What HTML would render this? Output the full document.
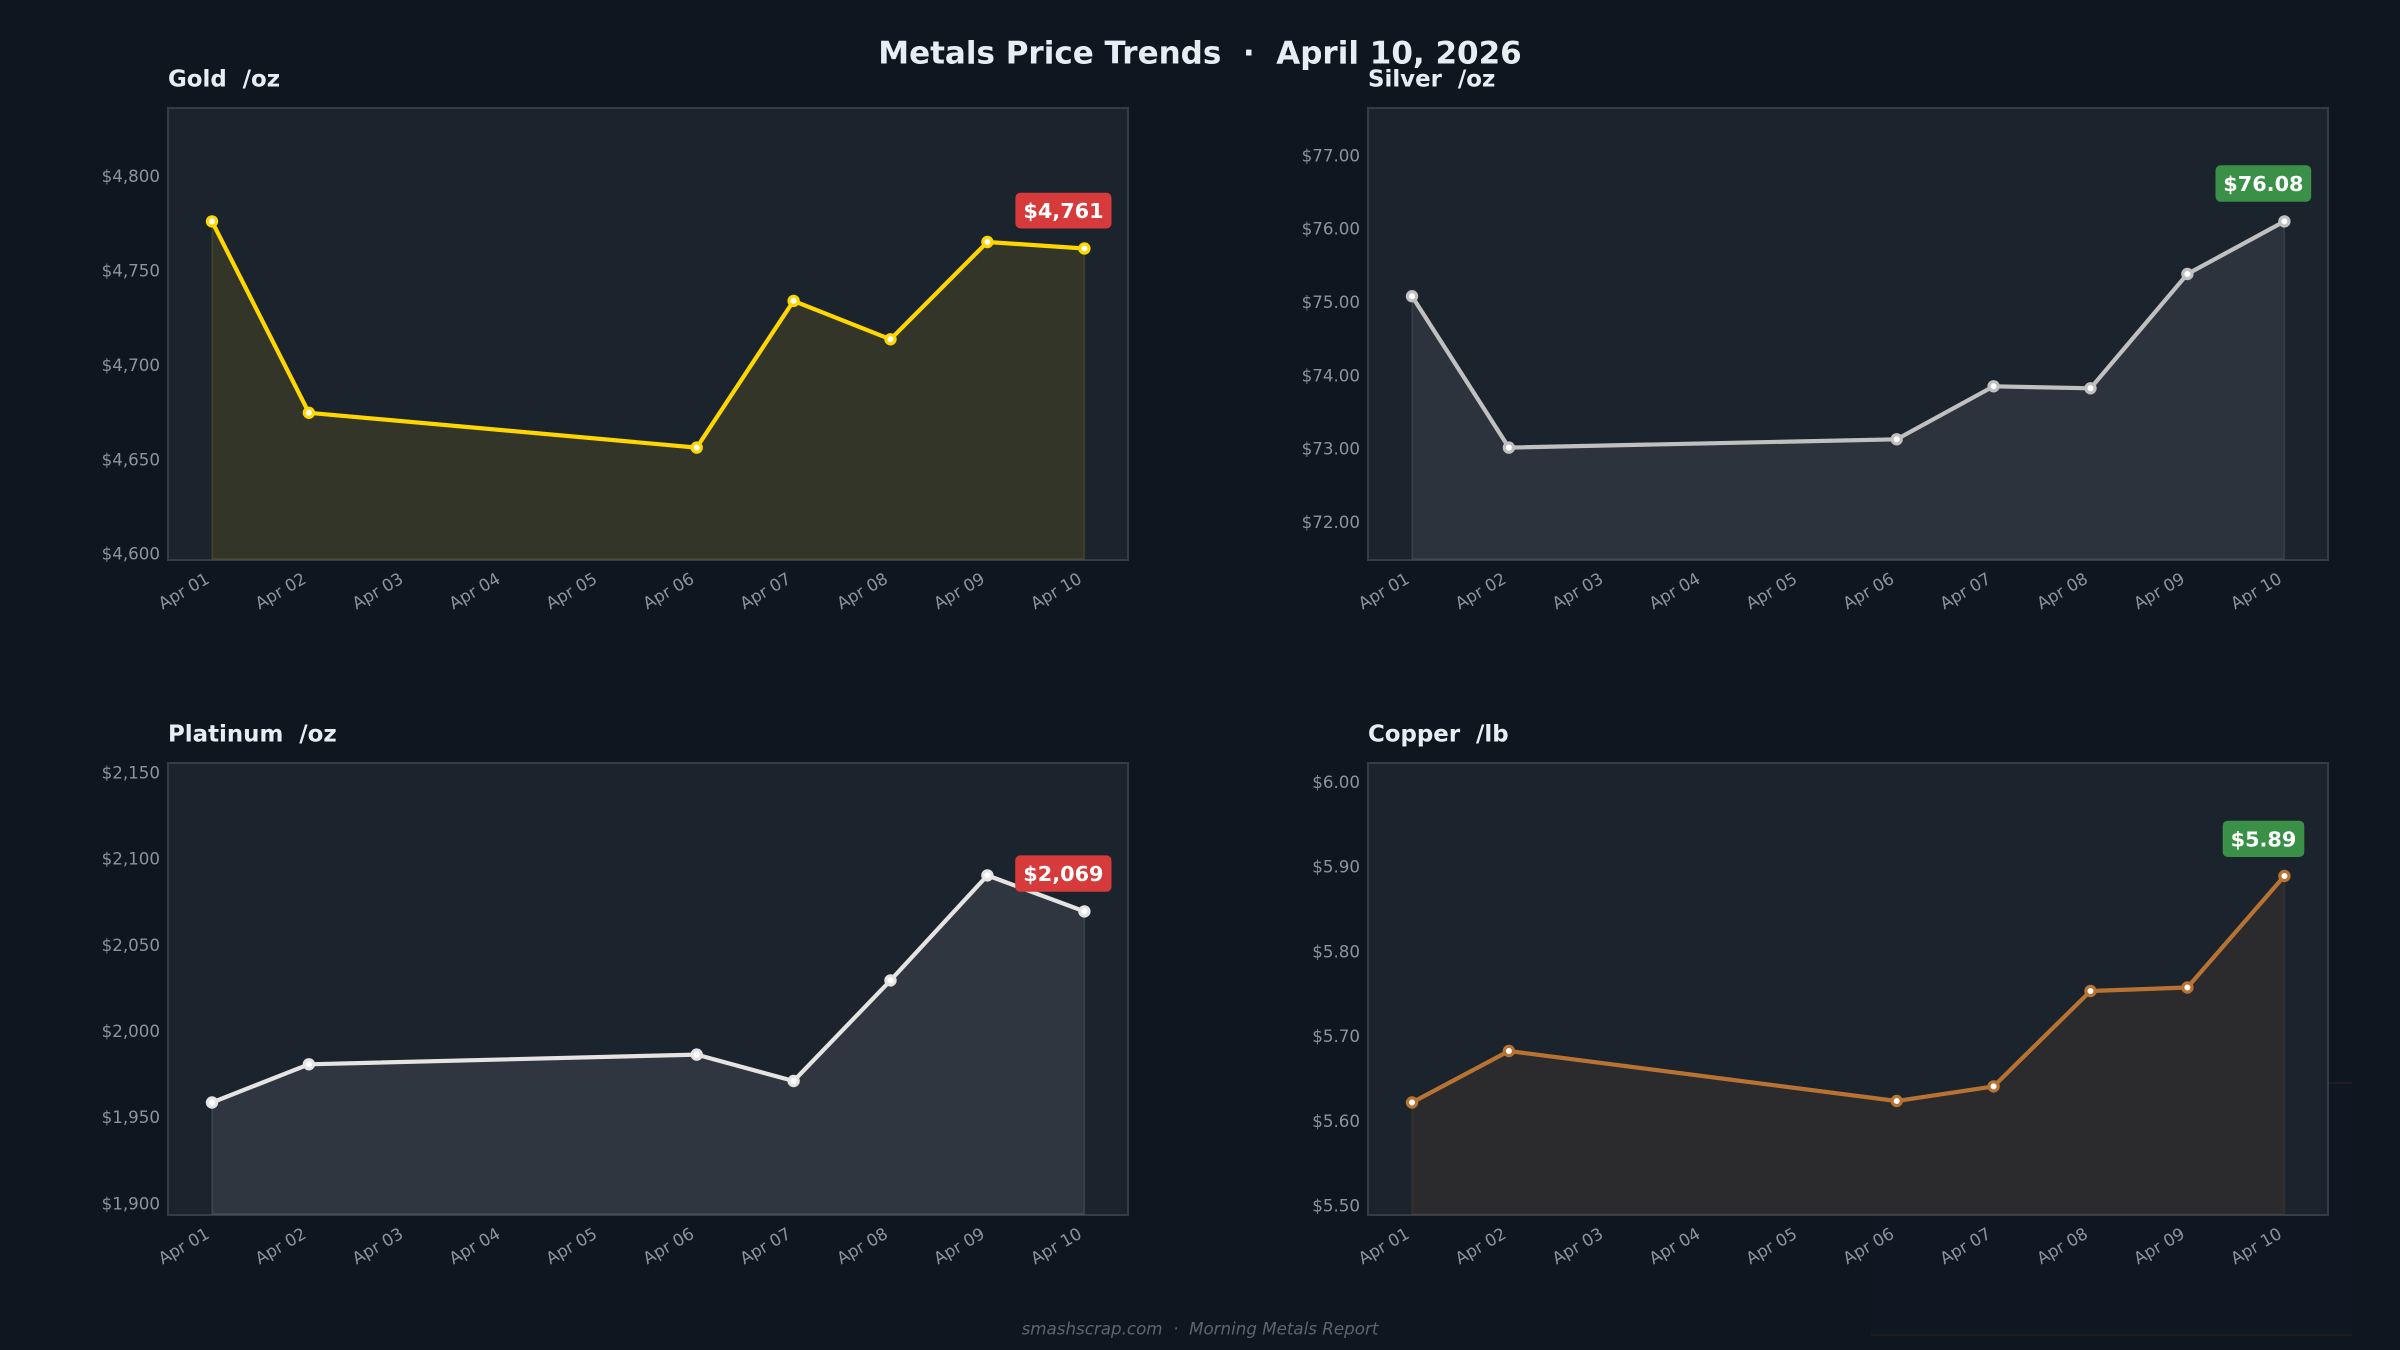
<!DOCTYPE html>
<html><head><meta charset="utf-8"><style>
html,body{margin:0;padding:0;background:#0e1620;}
svg{display:block;}
text{font-family:"DejaVu Sans","Liberation Sans",sans-serif;white-space:pre;}
.tk{font-size:16.7px;fill:#8b949e;}
.yt{text-anchor:end;}
.ttl{font-size:22.9px;font-weight:bold;fill:#e6edf3;}
.val{font-size:20.8px;font-weight:bold;fill:#ffffff;text-anchor:middle;}
.ax{fill:#1b232d;stroke:#333d49;stroke-width:2;}
</style></head><body>
<svg width="2400" height="1350" viewBox="0 0 2400 1350" xmlns="http://www.w3.org/2000/svg">
<rect x="0" y="0" width="2400" height="1350" fill="#0e1620"/>
<!-- faint box behind -->
<rect x="1871" y="1083" width="481" height="252" fill="#0f1822"/>
<line x1="1871" y1="1335" x2="2352" y2="1335" stroke="#221b22" stroke-width="2"/>
<line x1="1871" y1="1083" x2="2352" y2="1083" stroke="#221b22" stroke-width="2"/>

<text x="1200" y="63.5" text-anchor="middle" style="font-size:31px;font-weight:bold;fill:#e6edf3;">Metals Price Trends  ·  April 10, 2026</text>

<!-- GOLD -->
<g>
<text class="ttl" x="168" y="86.7">Gold  /oz</text>
<rect class="ax" x="168" y="108" width="960" height="452"/>
<polygon points="212,221.4 308.9,412.8 696.7,447.6 793.6,300.9 890.5,339.3 987.4,242 1084.4,248.5 1084.4,559 212,559" fill="#FFD700" fill-opacity="0.10" stroke="#FFD700" stroke-opacity="0.12" stroke-width="1.5"/>
<polyline points="212,221.4 308.9,412.8 696.7,447.6 793.6,300.9 890.5,339.3 987.4,242 1084.4,248.5" fill="none" stroke="#FFD700" stroke-width="4.2" stroke-linejoin="round"/>
<g fill="#ffffff" stroke="#FFD700" stroke-width="3.2">
<circle cx="212" cy="221.4" r="4.6"/><circle cx="308.9" cy="412.8" r="4.6"/><circle cx="696.7" cy="447.6" r="4.6"/><circle cx="793.6" cy="300.9" r="4.6"/><circle cx="890.5" cy="339.3" r="4.6"/><circle cx="987.4" cy="242" r="4.6"/><circle cx="1084.4" cy="248.5" r="4.6"/>
</g>
<rect x="1015.4" y="192.7" width="96.1" height="35.8" rx="5" fill="#d63a3a"/>
<text class="val" x="1063.5" y="218.2">$4,761</text>
<g class="tk yt">
<text x="160" y="182.2">$4,800</text><text x="160" y="276.6">$4,750</text><text x="160" y="370.9">$4,700</text><text x="160" y="465.3">$4,650</text><text x="160" y="559.6">$4,600</text>
</g>
</g>

<!-- SILVER -->
<g transform="translate(1200,0)">
<text class="ttl" x="168" y="86.7">Silver  /oz</text>
<rect class="ax" x="168" y="108" width="960" height="452"/>
<polygon points="212,296.2 308.9,447.6 696.7,439.3 793.6,386.3 890.5,388.3 987.4,274 1084.4,221.4 1084.4,559 212,559" fill="#C0C0C0" fill-opacity="0.10" stroke="#C0C0C0" stroke-opacity="0.12" stroke-width="1.5"/>
<polyline points="212,296.2 308.9,447.6 696.7,439.3 793.6,386.3 890.5,388.3 987.4,274 1084.4,221.4" fill="none" stroke="#C0C0C0" stroke-width="4.2" stroke-linejoin="round"/>
<g fill="#ffffff" stroke="#C0C0C0" stroke-width="3.2">
<circle cx="212" cy="296.2" r="4.6"/><circle cx="308.9" cy="447.6" r="4.6"/><circle cx="696.7" cy="439.3" r="4.6"/><circle cx="793.6" cy="386.3" r="4.6"/><circle cx="890.5" cy="388.3" r="4.6"/><circle cx="987.4" cy="274" r="4.6"/><circle cx="1084.4" cy="221.4" r="4.6"/>
</g>
<rect x="1015.5" y="165.3" width="95.7" height="36.4" rx="5" fill="#3a9046"/>
<text class="val" x="1063.4" y="191.1">$76.08</text>
<g class="tk yt">
<text x="160" y="161.3">$77.00</text><text x="160" y="234.7">$76.00</text><text x="160" y="308">$75.00</text><text x="160" y="381.4">$74.00</text><text x="160" y="454.7">$73.00</text><text x="160" y="528.1">$72.00</text>
</g>
</g>

<!-- PLATINUM -->
<g transform="translate(0,655)">
<text class="ttl" x="168" y="86.5">Platinum  /oz</text>
<rect class="ax" x="168" y="108" width="960" height="452"/>
<polygon points="212,447.5 308.9,409.3 696.7,399.6 793.6,426 890.5,325.4 987.4,220.4 1084.4,256.4 1084.4,559 212,559" fill="#E5E4E2" fill-opacity="0.10" stroke="#E5E4E2" stroke-opacity="0.12" stroke-width="1.5"/>
<polyline points="212,447.5 308.9,409.3 696.7,399.6 793.6,426 890.5,325.4 987.4,220.4 1084.4,256.4" fill="none" stroke="#E5E4E2" stroke-width="4.2" stroke-linejoin="round"/>
<g fill="#ffffff" stroke="#E5E4E2" stroke-width="3.2">
<circle cx="212" cy="447.5" r="4.6"/><circle cx="308.9" cy="409.3" r="4.6"/><circle cx="696.7" cy="399.6" r="4.6"/><circle cx="793.6" cy="426" r="4.6"/><circle cx="890.5" cy="325.4" r="4.6"/><circle cx="987.4" cy="220.4" r="4.6"/><circle cx="1084.4" cy="256.4" r="4.6"/>
</g>
<rect x="1015.2" y="200.4" width="96.3" height="36.4" rx="5" fill="#d63a3a"/>
<text class="val" x="1063.4" y="226.2">$2,069</text>
<g class="tk yt">
<text x="160" y="123.3">$2,150</text><text x="160" y="209.6">$2,100</text><text x="160" y="295.8">$2,050</text><text x="160" y="382">$2,000</text><text x="160" y="468.2">$1,950</text><text x="160" y="554.4">$1,900</text>
</g>
</g>

<!-- COPPER -->
<g transform="translate(1200,655)">
<text class="ttl" x="168" y="86.5">Copper  /lb</text>
<rect class="ax" x="168" y="108" width="960" height="452"/>
<polygon points="212,447.5 308.9,396 696.7,446 793.6,431.4 890.5,336 987.4,332.5 1084.4,221 1084.4,559 212,559" fill="#B87333" fill-opacity="0.10" stroke="#B87333" stroke-opacity="0.12" stroke-width="1.5"/>
<polyline points="212,447.5 308.9,396 696.7,446 793.6,431.4 890.5,336 987.4,332.5 1084.4,221" fill="none" stroke="#B87333" stroke-width="4.2" stroke-linejoin="round"/>
<g fill="#ffffff" stroke="#B87333" stroke-width="3.2">
<circle cx="212" cy="447.5" r="4.6"/><circle cx="308.9" cy="396" r="4.6"/><circle cx="696.7" cy="446" r="4.6"/><circle cx="793.6" cy="431.4" r="4.6"/><circle cx="890.5" cy="336" r="4.6"/><circle cx="987.4" cy="332.5" r="4.6"/><circle cx="1084.4" cy="221" r="4.6"/>
</g>
<rect x="1022.7" y="165.7" width="81.6" height="36.3" rx="5" fill="#3a9046"/>
<text class="val" x="1063.5" y="191.5">$5.89</text>
<g class="tk yt">
<text x="160" y="133">$6.00</text><text x="160" y="217.7">$5.90</text><text x="160" y="302.4">$5.80</text><text x="160" y="387.1">$5.70</text><text x="160" y="471.8">$5.60</text><text x="160" y="556.5">$5.50</text>
</g>
</g>

<!-- X tick labels (4 charts) -->
<g class="tk" text-anchor="end">
<g transform="translate(-4,0)">
<text transform="translate(214.6,582) rotate(-30)">Apr 01</text>
<text transform="translate(311.5,582) rotate(-30)">Apr 02</text>
<text transform="translate(408.5,582) rotate(-30)">Apr 03</text>
<text transform="translate(505.4,582) rotate(-30)">Apr 04</text>
<text transform="translate(602.3,582) rotate(-30)">Apr 05</text>
<text transform="translate(699.3,582) rotate(-30)">Apr 06</text>
<text transform="translate(796.2,582) rotate(-30)">Apr 07</text>
<text transform="translate(893.1,582) rotate(-30)">Apr 08</text>
<text transform="translate(990,582) rotate(-30)">Apr 09</text>
<text transform="translate(1087,582) rotate(-30)">Apr 10</text>
</g>
<g transform="translate(1196,0)">
<text transform="translate(214.6,582) rotate(-30)">Apr 01</text>
<text transform="translate(311.5,582) rotate(-30)">Apr 02</text>
<text transform="translate(408.5,582) rotate(-30)">Apr 03</text>
<text transform="translate(505.4,582) rotate(-30)">Apr 04</text>
<text transform="translate(602.3,582) rotate(-30)">Apr 05</text>
<text transform="translate(699.3,582) rotate(-30)">Apr 06</text>
<text transform="translate(796.2,582) rotate(-30)">Apr 07</text>
<text transform="translate(893.1,582) rotate(-30)">Apr 08</text>
<text transform="translate(990,582) rotate(-30)">Apr 09</text>
<text transform="translate(1087,582) rotate(-30)">Apr 10</text>
</g>
<g transform="translate(-4,655)">
<text transform="translate(214.6,582) rotate(-30)">Apr 01</text>
<text transform="translate(311.5,582) rotate(-30)">Apr 02</text>
<text transform="translate(408.5,582) rotate(-30)">Apr 03</text>
<text transform="translate(505.4,582) rotate(-30)">Apr 04</text>
<text transform="translate(602.3,582) rotate(-30)">Apr 05</text>
<text transform="translate(699.3,582) rotate(-30)">Apr 06</text>
<text transform="translate(796.2,582) rotate(-30)">Apr 07</text>
<text transform="translate(893.1,582) rotate(-30)">Apr 08</text>
<text transform="translate(990,582) rotate(-30)">Apr 09</text>
<text transform="translate(1087,582) rotate(-30)">Apr 10</text>
</g>
<g transform="translate(1196,655)">
<text transform="translate(214.6,582) rotate(-30)">Apr 01</text>
<text transform="translate(311.5,582) rotate(-30)">Apr 02</text>
<text transform="translate(408.5,582) rotate(-30)">Apr 03</text>
<text transform="translate(505.4,582) rotate(-30)">Apr 04</text>
<text transform="translate(602.3,582) rotate(-30)">Apr 05</text>
<text transform="translate(699.3,582) rotate(-30)">Apr 06</text>
<text transform="translate(796.2,582) rotate(-30)">Apr 07</text>
<text transform="translate(893.1,582) rotate(-30)">Apr 08</text>
<text transform="translate(990,582) rotate(-30)">Apr 09</text>
<text transform="translate(1087,582) rotate(-30)">Apr 10</text>
</g>
</g>

<text x="1200" y="1334.5" text-anchor="middle" style="font-size:16.7px;font-style:italic;fill:#5a6571;">smashscrap.com  ·  Morning Metals Report</text>
</svg>
</body></html>
